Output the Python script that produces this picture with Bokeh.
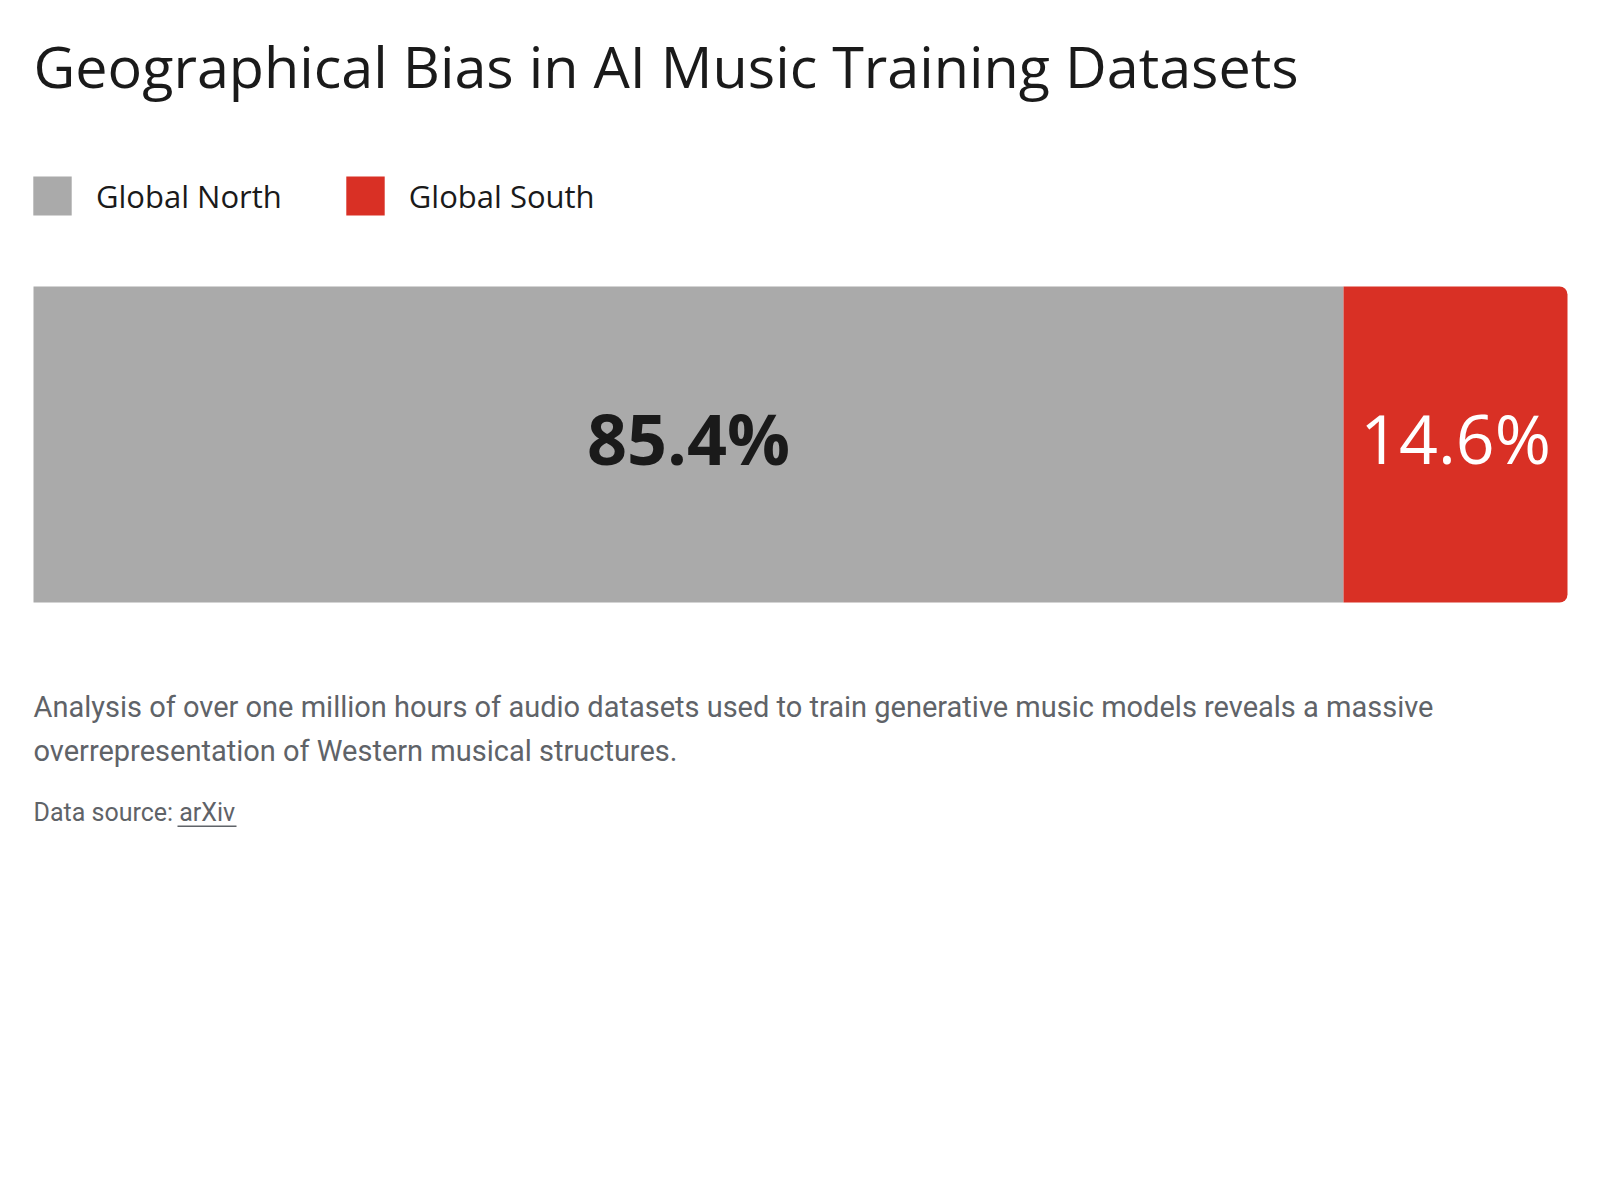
from bokeh.plotting import figure
from bokeh.models import (ColumnDataSource, Range1d, Label, Legend, LegendItem,
                          BoxAnnotation)
from bokeh.core.properties import value
from bokeh.embed import file_html
from bokeh.resources import INLINE

# ---- data ----
categories = ["Global North", "Global South"]
shares = [85.4, 14.6]
share_labels = ["85.4%", "14.6%"]
colors = ["#aaaaaa", "#d93025"]
label_colors = ["#1a1a1a", "#ffffff"]
label_styles = ["bold", "normal"]
label_sizes = ["70px", "68px"]

title_text = "Geographical Bias in AI Music Training Datasets"
body_lines = [
    "Analysis of over one million hours of audio datasets used to train generative music models reveals a massive",
    "overrepresentation of Western musical structures.",
]
source_text = "Data source: arXiv"

# ---- layout constants ----
W, H = 1584, 1150
BAR_Y = 444
BAR_H = 316
LEFT_PX, RIGHT_PX = 33, 1567

lefts = []
acc = 0.0
for s in shares:
    lefts.append(acc)
    acc += s
rights = [l + s for l, s in zip(lefts, shares)]
mids = [(l + r) / 2 for l, r in zip(lefts, rights)]

span_px = RIGHT_PX - LEFT_PX
p = figure(width=W, height=H,
           x_range=Range1d(-LEFT_PX / span_px * 100, 100 + (W - RIGHT_PX) / span_px * 100),
           y_range=Range1d(H, 0), toolbar_location=None, output_backend="svg",
           x_axis_location=None, y_axis_location=None, min_border=0,
           outline_line_color=None)
p.grid.visible = False
p.background_fill_color = "white"
p.border_fill_color = "white"

renderers = []
for i, cat in enumerate(categories):
    src = ColumnDataSource(dict(y=[BAR_Y], left=[lefts[i]], right=[rights[i]]))
    radius = (0, 8, 8, 0) if i == len(categories) - 1 else 0
    r = p.hbar(y="y", left="left", right="right", height=BAR_H, source=src,
               fill_color=colors[i], line_color=None, border_radius=radius)
    renderers.append(r)

lab_src = ColumnDataSource(dict(x=mids, y=[BAR_Y - 7] * len(mids),
                                text=share_labels, color=label_colors,
                                style=label_styles, size=label_sizes))
p.text(x="x", y="y", text="text", source=lab_src, text_color="color",
       text_font_style="style", text_align="center",
       text_baseline="alphabetic", text_font_size="size",
       text_font=value("Open Sans"))

# title
p.add_layout(Label(x=LEFT_PX, y=65, x_units="screen", text=title_text,
                   text_font="Open Sans", text_font_size="57.5px",
                   text_color="#1a1a1a", text_baseline="alphabetic"))

# legend
legend = Legend(items=[LegendItem(label=c, renderers=[r]) for c, r in zip(categories, renderers)],
                location=(28, H - 220), orientation="horizontal",
                glyph_width=48, glyph_height=49, label_height=49,
                label_standoff=20, spacing=59, padding=0, margin=0,
                border_line_alpha=0, background_fill_alpha=0,
                label_text_font="Open Sans", label_text_font_size="31px",
                label_text_color="#1a1a1a")
p.add_layout(legend, "center")

# body text
for i, line in enumerate(body_lines):
    p.add_layout(Label(x=LEFT_PX, y=706 + 44 * i, x_units="screen", text=line,
                       text_font="Roboto", text_font_size="29px",
                       text_color="#5f6368", text_baseline="alphabetic"))

p.add_layout(Label(x=LEFT_PX, y=812, x_units="screen", text=source_text,
                   text_font="Roboto", text_font_size="25px",
                   text_color="#5f6368", text_baseline="alphabetic"))
p.add_layout(BoxAnnotation(left=177, right=236, left_units="screen",
                           right_units="screen", top=825, bottom=826.5,
                           fill_color="#5f6368", fill_alpha=1.0,
                           line_color=None))

open("out.html", "w").write(file_html(p, INLINE))
